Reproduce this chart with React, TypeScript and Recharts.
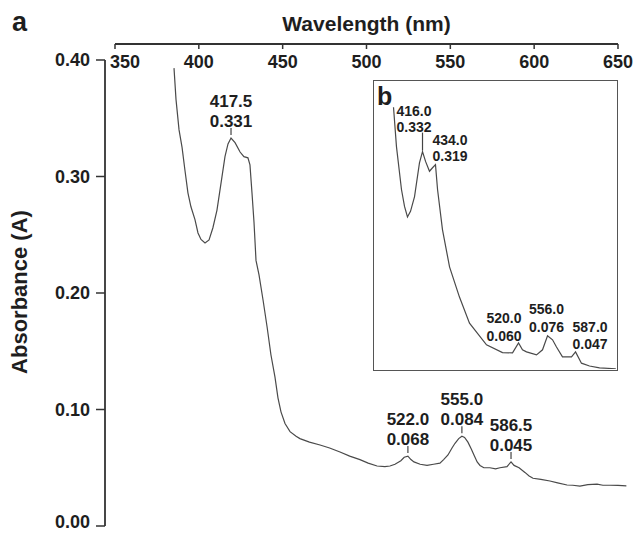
import { LineChart, Line, XAxis, YAxis, ReferenceDot } from 'recharts'

// main spectrum (panel a)
const mainWl = [
  385.2, 386.4, 388.2, 390.0, 391.7, 393.5, 395.3, 397.7, 399.5, 401.3, 403.7, 406.1, 408.4, 410.8,
  413.8, 415.6, 417.4, 419.2, 421.6, 424.6, 426.9, 429.3, 430.5, 431.7, 432.9, 434.1, 435.9, 438.3,
  440.7, 443.0, 445.4, 447.2, 449.0, 451.4, 454.4, 458.0, 460.3, 466.0, 472.3, 478.0, 484.2, 490.0,
  496.1, 501.0, 506.3, 511.0, 514.0, 517.0, 520.5, 522.5, 524.7, 526.5, 528.3, 532.0, 536.1, 540.0,
  543.8, 546.0, 548.6, 551.0, 552.8, 555.0, 556.9, 558.5, 560.5, 562.5, 564.1, 566.0, 567.7, 570.0,
  573.6, 577.0, 579.6, 583.8, 586.2, 588.0, 591.0, 594.5, 597.0, 599.3, 604.0, 609.4, 614.0, 619.6,
  623.0, 627.3, 632.0, 637.5, 641.0, 645.2, 650.0, 655.0,
]
const mainAbs = [
  0.393, 0.366, 0.340, 0.325, 0.3056, 0.286, 0.274, 0.263, 0.2515, 0.246, 0.243, 0.2455, 0.256, 0.271,
  0.2996, 0.317, 0.328, 0.333, 0.329, 0.321, 0.317, 0.316, 0.310, 0.286, 0.261, 0.228, 0.2155, 0.194,
  0.171, 0.147, 0.128, 0.110, 0.098, 0.088, 0.081, 0.077, 0.075, 0.072, 0.0695, 0.067, 0.0635, 0.060,
  0.057, 0.054, 0.0515, 0.051, 0.0515, 0.053, 0.056, 0.059, 0.060, 0.057, 0.055, 0.053, 0.052, 0.053,
  0.054, 0.057, 0.061, 0.067, 0.071, 0.075, 0.077, 0.076, 0.072, 0.066, 0.061, 0.055, 0.052, 0.050,
  0.050, 0.049, 0.050, 0.051, 0.055, 0.052, 0.050, 0.046, 0.043, 0.041, 0.040, 0.0386, 0.037, 0.0352,
  0.035, 0.0343, 0.0355, 0.036, 0.035, 0.035, 0.0348, 0.0345,
]
const mainPeakWl = [417.5, 522.0, 555.0, 586.5]
const mainPeakAbs = [0.331, 0.068, 0.084, 0.045]

// inset spectrum (panel b)
const insetWl = [
  383.6, 386.9, 392.5, 395.9, 399.2, 402.6, 407.1, 412.6, 416.0, 419.4, 423.8, 427.2, 430.5, 432.8,
  438.3, 446.2, 457.3, 468.5, 487.5, 505.4, 516.6, 523.3, 527.7, 532.2, 543.4, 550.1, 555.7, 561.3,
  565.7, 572.4, 582.5, 587.0, 593.6, 602.6, 613.8, 632.0,
]
const insetAbs = [
  0.395, 0.339, 0.278, 0.254, 0.239, 0.247, 0.268, 0.316, 0.332, 0.318, 0.304, 0.309, 0.3135, 0.278,
  0.221, 0.168, 0.125, 0.088, 0.057, 0.046, 0.0457, 0.0599, 0.050, 0.0471, 0.0428, 0.050, 0.070, 0.0642,
  0.054, 0.040, 0.040, 0.047, 0.031, 0.027, 0.0243, 0.023,
]
const insetPeakWl = [416.0, 434.0, 520.0, 556.0, 587.0]
const insetPeakAbs = [0.332, 0.319, 0.060, 0.076, 0.047]

const wlTicks = [350, 400, 450, 500, 550, 600, 650]
const absTicks = [0, 0.1, 0.2, 0.3, 0.4]

const FONT = '"Liberation Sans", Arial, Helvetica, sans-serif'
const INK = '#1e1e1e'

const mainData = mainWl.map((wl, i) => ({ wl, abs: mainAbs[i] }))
const insetData = insetWl.map((wl, i) => ({ wl, abs: insetAbs[i] }))

// the peak point of the trace nearest the labelled wavelength
function peakPoint(data: { wl: number; abs: number }[], wl: number) {
  const near = data.filter(d => Math.abs(d.wl - wl) <= 4)
  return near.reduce((a, b) => (b.abs > a.abs ? b : a))
}

// text placement of the inset labels, relative to the peak
const insetLabelPos = [
  { dx: -26, anchor: 'start', y1: -40, y2: -24, tick: true },
  { dx: -3, anchor: 'start', y1: -24, y2: -8, tick: false },
  { dx: 3, anchor: 'end', y1: -25, y2: -7, tick: false },
  { dx: -1, anchor: 'middle', y1: -27, y2: -9, tick: false },
  { dx: -3, anchor: 'start', y1: -25, y2: -8, tick: false },
]

const TopTick = (props: any) => {
  const { x, y, payload, index } = props
  return (
    <text x={x + (index === 0 ? 10 : 0)} y={y} dy="0.71em" textAnchor="middle"
      fontSize={18} fontWeight={700} fill={INK} fontFamily={FONT}>
      {payload.value}
    </text>
  )
}

// keep the 0.00 label inside the picture
const LeftTick = (props: any) => {
  const { x, y, payload } = props
  return (
    <text x={x} y={y - (payload.value === 0 ? 4 : 0)} dy="0.35em" textAnchor="end"
      fontSize={18} fontWeight={700} fill={INK} fontFamily={FONT}>
      {Number(payload.value).toFixed(2)}
    </text>
  )
}

const YTitle = (props: any) => {
  const vb = props.viewBox || { x: 0, y: 44, height: 482 }
  const cx = vb.x + 19
  const cy = vb.y + vb.height / 2 + 7
  return (
    <text x={cx} y={cy} dy="0.35em" textAnchor="middle" transform={`rotate(-90 ${cx} ${cy})`}
      fontSize={22} fontWeight={700} fill={INK} fontFamily={FONT}>
      Absorbance (A)
    </text>
  )
}

export default function App() {
  return (
    <div style={{ position: 'relative', width: 634, height: 533, background: '#fff', fontFamily: FONT }}>
      <style>{'body{margin:0;overflow:hidden}'}</style>
      <LineChart width={634} height={533} data={mainData} margin={{ top: 44, right: 6, bottom: 7, left: 0 }}>
        <XAxis
          dataKey="wl"
          type="number"
          orientation="top"
          mirror
          domain={[344.04, 655.97]}
          ticks={wlTicks}
          interval={0}
          tick={<TopTick />}
          tickSize={5}
          tickMargin={6}
          axisLine={{ stroke: '#333', strokeWidth: 1.8, strokeDasharray: '0 10 503 1000' }}
          tickLine={{ stroke: '#333', strokeWidth: 1.5 }}
          label={{ value: 'Wavelength (nm)', position: 'top', offset: 13, fontSize: 21, fontWeight: 700, fill: INK, fontFamily: FONT }}
        />
        <YAxis
          dataKey="abs"
          type="number"
          width={105}
          domain={[0, 0.41373]}
          ticks={absTicks}
          interval={0}
          tickSize={9}
          tickMargin={6}
          tick={<LeftTick />}
          axisLine={{ stroke: '#333', strokeWidth: 1.8, strokeDasharray: '0 16 1000' }}
          tickLine={{ stroke: '#333', strokeWidth: 1.5 }}
          label={<YTitle />}
        />
        <Line type="linear" dataKey="abs" stroke="#4a4a4a" strokeWidth={1.2} dot={false} isAnimationActive={false} />
        {mainPeakWl.map((wl, i) => {
          const p = peakPoint(mainData, wl)
          return (
            <ReferenceDot key={wl} x={p.wl} y={p.abs} r={0}
              shape={(s: any) => (
                <g>
                  <line x1={s.cx} x2={s.cx} y1={s.cy - 3} y2={s.cy - 10} stroke="#444" strokeWidth={1.2} />
                  <text x={s.cx} y={s.cy - 37} dy="0.35em" textAnchor="middle" fontSize={17} fontWeight={700} fill={INK} fontFamily={FONT}>
                    {wl.toFixed(1)}
                  </text>
                  <text x={s.cx} y={s.cy - 17} dy="0.35em" textAnchor="middle" fontSize={17} fontWeight={700} fill={INK} fontFamily={FONT}>
                    {mainPeakAbs[i].toFixed(3)}
                  </text>
                </g>
              )}
            />
          )
        })}
      </LineChart>

      <div style={{ position: 'absolute', left: 12, top: 4, fontSize: 27, fontWeight: 700, color: INK, lineHeight: '36px' }}>a</div>

      <div style={{
        position: 'absolute', left: 373, top: 80, width: 245, height: 291, boxSizing: 'border-box',
        border: '1.5px solid #555', background: '#fff',
      }}>
        <LineChart width={242} height={288} data={insetData} margin={{ top: 0, right: 0, bottom: 0, left: 0 }}>
          <XAxis dataKey="wl" type="number" hide domain={[361.8, 632.2]} />
          <YAxis dataKey="abs" type="number" hide domain={[0.0227, 0.4324]} />
          <Line type="linear" dataKey="abs" stroke="#4a4a4a" strokeWidth={1.2} dot={false} isAnimationActive={false} />
          {insetPeakWl.map((wl, i) => {
            const p = peakPoint(insetData, wl)
            const pos = insetLabelPos[i]
            return (
              <ReferenceDot key={wl} x={p.wl} y={p.abs} r={0}
                shape={(s: any) => (
                  <g>
                    {pos.tick && <line x1={s.cx} x2={s.cx} y1={s.cy - 1} y2={s.cy - 19} stroke="#444" strokeWidth={1.2} />}
                    <text x={s.cx + pos.dx} y={s.cy + pos.y1} dy="0.35em" textAnchor={pos.anchor as any} fontSize={14} fontWeight={700} fill={INK} fontFamily={FONT}>
                      {wl.toFixed(1)}
                    </text>
                    <text x={s.cx + pos.dx} y={s.cy + pos.y2} dy="0.35em" textAnchor={pos.anchor as any} fontSize={14} fontWeight={700} fill={INK} fontFamily={FONT}>
                      {insetPeakAbs[i].toFixed(3)}
                    </text>
                  </g>
                )}
              />
            )
          })}
        </LineChart>
        <div style={{ position: 'absolute', left: 3, top: 1, fontSize: 25, fontWeight: 700, color: INK, lineHeight: '28px' }}>b</div>
      </div>
    </div>
  )
}
